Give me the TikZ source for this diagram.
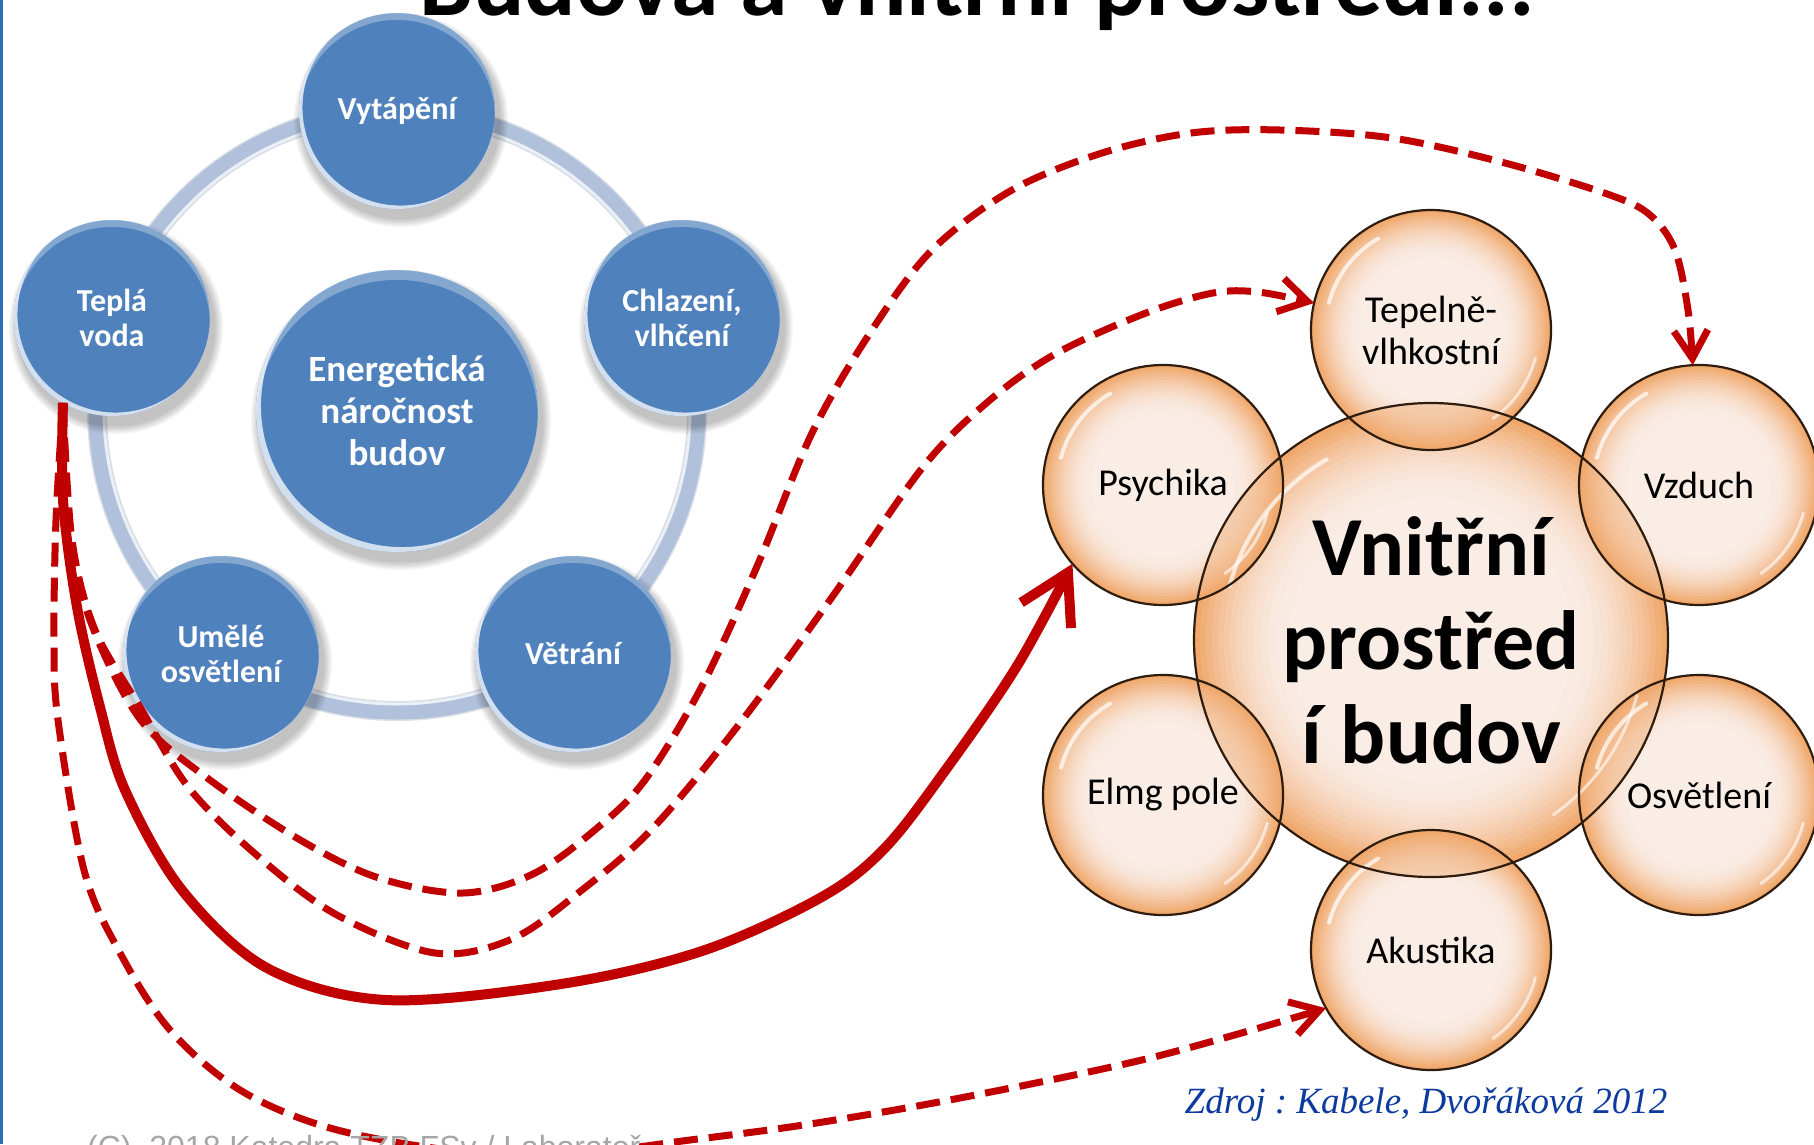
\documentclass[tikz,border=0pt]{standalone}
\usepackage{fontspec}
\setmainfont{Carlito}
\newfontfamily\srcfont{Liberation Serif}
\newfontfamily\footfont{Liberation Sans}
\usetikzlibrary{arrows.meta}
\frenchspacing

\definecolor{discblue}{HTML}{4F81BD}
\definecolor{ringblue}{HTML}{B1C1DC}
\definecolor{arrowred}{HTML}{C00000}
\definecolor{srcblue}{HTML}{0C3A9E}
\definecolor{footgray}{HTML}{A6A6A6}
\definecolor{edgeblue}{HTML}{2E6DB8}
\definecolor{bubPale}{HTML}{FAEDE6}
\definecolor{bubEdge}{HTML}{F0A86C}
\definecolor{bubRim}{HTML}{2E1C0E}

% glossy blue disc with drop shadow: name, x, y, radius, label style, label
\newcommand\bluedisc[6]{%
  \foreach \k in {1,...,7}{\fill[black, opacity=0.035] (#2+4,#3+9) circle[radius={#4+\k*1.3}];}
  \fill[discblue] (#2,#3) circle[radius=#4];
  \begin{scope}
    \clip (#2,#3) circle[radius=#4];
    \fill[white, opacity=.3, even odd rule] (#2,#3) circle[radius=#4] (#2,{#3+0.07*#4}) circle[radius=#4];
    \fill[white, opacity=.75, even odd rule] (#2,#3) circle[radius=#4] ({#2+0.035*#4},{#3-0.035*#4}) circle[radius=#4];
  \end{scope}
  \node[disclabel, #5, minimum size={2*#4}] (#1) at (#2,#3) {#6};
}

% orange bubble, darker towards the rim: name, x, y, radius
\newcommand\bubble[4]{%
  \node[circle, inner sep=0, outer sep=0, minimum size={2*#4}] (#1) at (#2,#3) {};
  \foreach \f/\t in {1.00/0, 0.975/10, 0.95/20, 0.925/30, 0.90/39, 0.875/48, 0.85/56,
      0.825/64, 0.80/71, 0.775/77, 0.75/83, 0.72/88, 0.69/93, 0.65/97, 0.60/100}
    \fill[bubPale!\t!bubEdge] (#1.center) circle[radius={\f*#4}];
}

% white glints inside a bubble: x, y, radius
\newcommand\bubblegloss[3]{%
  \draw[white, line width=4, opacity=.7, line cap=round] (#1,#2) ++(195:{0.88*#3}) arc[start angle=195, end angle=240, radius={0.88*#3}];
  \draw[white, line width=3, opacity=.6, line cap=round] (#1,#2) ++(15:{0.9*#3}) arc[start angle=15, end angle=55, radius={0.9*#3}];
}

\begin{document}
\begin{tikzpicture}[x=1pt, y=-1pt,
  disclabel/.style={circle, inner sep=0, outer sep=0, text=white, align=center},
  smalltxt/.style={font=\bfseries\fontsize{32}{35}\selectfont},
  bigtxt/.style={font=\bfseries\fontsize{37}{42}\selectfont},
  rimline/.style={draw=bubRim, line width=2.2},
  sattxt/.style={inner sep=0, align=center, font=\fontsize{38}{42}\selectfont},
  redflow/.style={draw=arrowred, line width=7, dash pattern=on 24pt off 11pt,
    -{Straight Barb[length=28pt, width=34pt]}},
  redmain/.style={draw=arrowred, line width=10,
    -{Straight Barb[length=48pt, width=56pt]}}
]
\useasboundingbox (0,0) rectangle (1814,1144);
\clip (0,0) rectangle (1814,1144);
\fill[white] (0,0) rectangle (1814,1144);
\fill[edgeblue] (0,0) rectangle (2.5,1144);

% heading, cut by the top edge
\node[anchor=base, inner sep=0, font=\bfseries\fontsize{96}{110}\selectfont] (title) at (977,15) {Budova a vnitřní prostředí...};

% ---------- energy cycle ----------
\draw[ringblue!85!black, opacity=.35, line width=20] (397,411) circle[radius=300];
\draw[ringblue, line width=17] (397,411) circle[radius=300];
\draw[white, opacity=.75, line width=3] (397,411) circle[radius=293];

\bluedisc{vyt}{397}{111}{98}{smalltxt}{Vytápění}
\bluedisc{tepla}{112}{318}{98}{smalltxt}{Teplá\\voda}
\bluedisc{chlaz}{682}{318}{98}{smalltxt}{Chlazení,\\vlhčení}
\bluedisc{umele}{221}{654}{98}{smalltxt}{Umělé\\osvětlení}
\bluedisc{vetr}{573}{654}{98}{smalltxt}{Větrání}
\bluedisc{enb}{397}{411}{141}{bigtxt}{Energetická\\náročnost\\budov}

% ---------- indoor environment ----------
\bubble{core}{1431}{640}{237}
\bubble{tep}{1431}{330}{120}
\bubble{psy}{1163}{485}{120}
\bubble{vz}{1699}{485}{120}
\bubble{elmg}{1163}{795}{120}
\bubble{osv}{1699}{795}{120}
\bubble{ak}{1431}{950}{120}

% darker lenses where the outer bubbles overlap the central one
\begin{scope}
  \clip (core.center) circle[radius=237];
  \foreach \n in {tep, psy, vz, elmg, osv, ak}
    \fill[bubEdge, opacity=.45] (\n.center) circle[radius=120];
\end{scope}

\bubblegloss{1431}{640}{237}
\bubblegloss{1431}{330}{120}
\bubblegloss{1163}{485}{120}
\bubblegloss{1699}{485}{120}
\bubblegloss{1163}{795}{120}
\bubblegloss{1699}{795}{120}
\bubblegloss{1431}{950}{120}

\foreach \n/\r in {core/237, tep/120, psy/120, vz/120, elmg/120, osv/120, ak/120}
  \draw[rimline] (\n.center) circle[radius=\r];

\node[inner sep=0, align=center, font=\bfseries\fontsize{84}{94}\selectfont] (coreT) at (core) {Vnitřní\\prostřed\\í budov};
\node[sattxt] (tepT) at (tep) {Tepelně-\\vlhkostní};
\node[sattxt] (psyT) at (psy) {Psychika};
\node[sattxt] (vzT) at (vz) {Vzduch};
\node[sattxt] (elmgT) at (elmg) {Elmg pole};
\node[sattxt] (osvT) at (osv) {Osvětlení};
\node[sattxt] (akT) at (ak) {Akustika};

% ---------- links from the building services to the indoor environment ----------
\draw[redflow] plot[smooth, tension=0.55] coordinates {(tepla.240) (56,520) (54,640) (58,720) (84,870) (119,951) (170,1030) (240,1090) (330,1128) (450,1150) (570,1154) (690,1140) (810,1124) (960,1098) (1150,1058) (ak.209)};

\draw[redmain] plot[smooth, tension=0.55] coordinates {(tepla.240) (63,500) (77,607) (100,707) (125,790) (182,890) (267,968) (386,1000) (561,984) (702,951) (820,898) (884,849) (947,768) (1017,666) (psy.221)};

\draw[redflow] plot[smooth, tension=0.55] coordinates {(tepla.240) (70,530) (90,620) (140,719) (210,780) (302,841) (379,878) (463,893) (533,874) (596,829) (645,780) (702,686) (758,564) (812,433) (870,333) (932,250) (1012,190) (1102,153) (1191,133) (1280,130) (1392,138) (1505,163) (1610,195) (1650,215) (1675,250) (1688,310) (vz.93)};

\draw[redflow] plot[smooth, tension=0.55] coordinates {(tepla.240) (72,540) (95,630) (140,707) (189,788) (260,858) (337,915) (435,953) (512,939) (582,890) (652,829) (737,727) (830,600) (923,467) (990,400) (1057,353) (1146,313) (1213,293) (1258,292) (tep.167)};

% source and footer
\node[anchor=base, inner sep=0, text=srcblue, font=\srcfont\itshape\fontsize{37}{40}\selectfont] (src) at (1426,1113) {Zdroj : Kabele, Dvořáková 2012};
\node[anchor=base west, inner sep=0, text=footgray, font=\footfont\fontsize{32}{36}\selectfont] (foot) at (87,1158) {(C)\ \ 2018 Katedra TZB FSv / Laboratoř};
\end{tikzpicture}
\end{document}
